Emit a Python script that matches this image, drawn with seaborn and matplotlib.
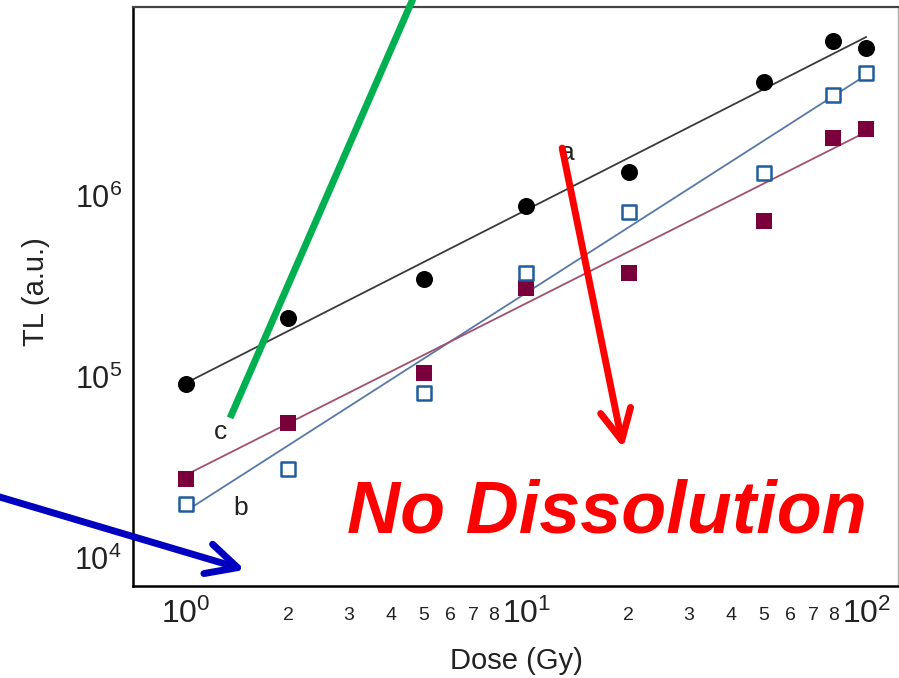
import numpy as np
import pandas as pd
import matplotlib
matplotlib.use("Agg")
import matplotlib.pyplot as plt
import seaborn as sns
from matplotlib.ticker import FixedLocator, NullFormatter

# ---------------- data ----------------
dose = [1, 2, 5, 10, 20, 50, 80, 100]
tl_a = [9.15e4, 2.12e5, 3.48e5, 8.8e5, 1.36e6, 4.26e6, 7.18e6, 6.57e6]     # black circles
tl_b = [1.99e4, 3.1e4, 8.16e4, 3.76e5, 8.16e5, 1.34e6, 3.61e6, 4.78e6]     # open blue squares
tl_c = [2.73e4, 5.57e4, 1.05e5, 3.1e5, 3.76e5, 7.28e5, 2.09e6, 2.34e6]     # filled purple squares

fit_dose = [1, 100]
fit_a = [9.27e4, 7.56e6]
fit_b = [1.82e4, 4.66e6]
fit_c = [2.88e4, 2.26e6]

x_major = [1, 10, 100]
x_major_labels = [r"$10^{0}$", r"$10^{1}$", r"$10^{2}$"]
x_minor = [0.9, 2, 3, 4, 5, 6, 7, 8, 9, 20, 30, 40, 50, 60, 70, 80, 90]
x_minor_labels = ["", "2", "3", "4", "5", "6", "7", "8", "",
                  "2", "3", "4", "5", "6", "7", "8", ""]
y_major = [1e4, 1e5, 1e6]
y_major_labels = [r"$10^{4}$", r"$10^{5}$", r"$10^{6}$"]
y_minor = [m * d for d in (1e4, 1e5, 1e6) for m in range(2, 10)]

# annotation geometry (data coordinates)
green_line_x = [1.347, 4.75]
green_line_y = [5.94e4, 1.35e7]
red_arrow_start = (12.76, 1.84e6)
red_arrow_tip = (19.3, 4.05e4)
blue_arrow_start = (0.27, 2.23e4)
blue_arrow_tip = (1.49, 8.6e3)

# ---------------- style ----------------
sns.set_theme(style="white")
plt.rcParams["font.family"] = ["Liberation Sans", "DejaVu Sans"]
plt.rcParams["mathtext.fontset"] = "custom"
plt.rcParams["mathtext.rm"] = "Liberation Sans"
plt.rcParams["mathtext.it"] = "Liberation Sans:italic"
plt.rcParams["mathtext.bf"] = "Liberation Sans:bold"

W, H = 899, 678
fig = plt.figure(figsize=(W / 100, H / 100), dpi=100)
fig.patch.set_facecolor("white")
ax = fig.add_axes([133 / W, 1 - 586 / H, (898 - 133) / W, (586 - 7) / H])
ax.set_facecolor("white")

ax.set_xscale("log")
ax.set_yscale("log")

df_pts = pd.DataFrame({"dose": dose, "a": tl_a, "b": tl_b, "c": tl_c})
df_fit = pd.DataFrame({"dose": fit_dose, "a": fit_a, "b": fit_b, "c": fit_c})

# fit lines
sns.lineplot(data=df_fit, x="dose", y="a", ax=ax, color="#3a3a3a", lw=1.3, zorder=2)
sns.lineplot(data=df_fit, x="dose", y="b", ax=ax, color="#5878a8", lw=1.3, zorder=2)
sns.lineplot(data=df_fit, x="dose", y="c", ax=ax, color="#a0506e", lw=1.3, zorder=2)

# points
sns.scatterplot(data=df_pts, x="dose", y="a", ax=ax, marker="o", s=150,
                color="black", edgecolor="black", linewidth=0, zorder=3)
sns.scatterplot(data=df_pts, x="dose", y="c", ax=ax, marker="s", s=145,
                color="#7a003c", edgecolor="#7a003c", linewidth=0, zorder=3)
sns.scatterplot(data=df_pts, x="dose", y="b", ax=ax, marker="s", s=110,
                facecolor="white", edgecolor="#1f5c9c", linewidth=1.8, zorder=4)

ax.set_xlim(0.698, 124)
ax.set_ylim(7.0e3, 1.107e7)

# ticks
ax.set_xticks(x_major, x_major_labels)
ax.set_xticks(x_minor, x_minor_labels, minor=True)
ax.set_yticks(y_major, y_major_labels)
ax.yaxis.set_minor_locator(FixedLocator(y_minor))
ax.yaxis.set_minor_formatter(NullFormatter())

lab_col = "#222222"
ax.tick_params(which="both", direction="in", top=False, right=False,
               colors="black", labelcolor=lab_col)
ax.tick_params(axis="x", which="major", length=8, width=1.3, labelsize=23, pad=9)
ax.tick_params(axis="x", which="minor", length=4, width=1.1, labelsize=14, pad=15)
ax.tick_params(axis="y", which="major", length=7, width=1.3, labelsize=22, pad=8)
ax.tick_params(axis="y", which="minor", length=4, width=1.1)

for side in ("left", "bottom"):
    ax.spines[side].set_color("black")
    ax.spines[side].set_linewidth(1.8)
ax.spines["top"].set_color("#444444")
ax.spines["top"].set_linewidth(1.6)
ax.spines["right"].set_color("#b0b0b0")
ax.spines["right"].set_linewidth(1.0)

ax.set_xlabel("Dose (Gy)", fontsize=21, color=lab_col)
ax.xaxis.set_label_coords(0.5007, -0.105)
ax.set_ylabel("TL (a.u.)", fontsize=21, color=lab_col)
ax.yaxis.set_label_coords(-0.108, 0.508)
ax.grid(False)

# curve labels
ax.text(13.2, 1.73e6, "a", fontsize=19, color="#222222", ha="center", va="center", zorder=5)
ax.text(1.45, 1.89e4, "b", fontsize=19, color="#222222", ha="center", va="center", zorder=5)
ax.text(1.26, 4.97e4, "c", fontsize=19, color="#222222", ha="center", va="center", zorder=5)

# big annotation text
ax.text(2.975, 1.39e4, "No Dissolution", fontsize=53, fontweight="bold",
        fontstyle="italic", color="#ff0000", ha="left", va="baseline", zorder=6)

# green line
ax.plot(green_line_x, green_line_y, color="#00b050", lw=5, solid_capstyle="butt",
        clip_on=False, zorder=7)

# arrows
for start, tip, col in ((red_arrow_start, red_arrow_tip, "#ff0000"),
                        (blue_arrow_start, blue_arrow_tip, "#0000c0")):
    ax.annotate("", xy=tip, xytext=start, xycoords="data", textcoords="data",
                annotation_clip=False,
                arrowprops=dict(arrowstyle="->,head_length=22,head_width=11",
                                mutation_scale=1, lw=5, color=col,
                                shrinkA=0, shrinkB=0,
                                capstyle="round", joinstyle="round"),
                zorder=8)

fig.savefig("out.png", dpi=100, facecolor="white")
